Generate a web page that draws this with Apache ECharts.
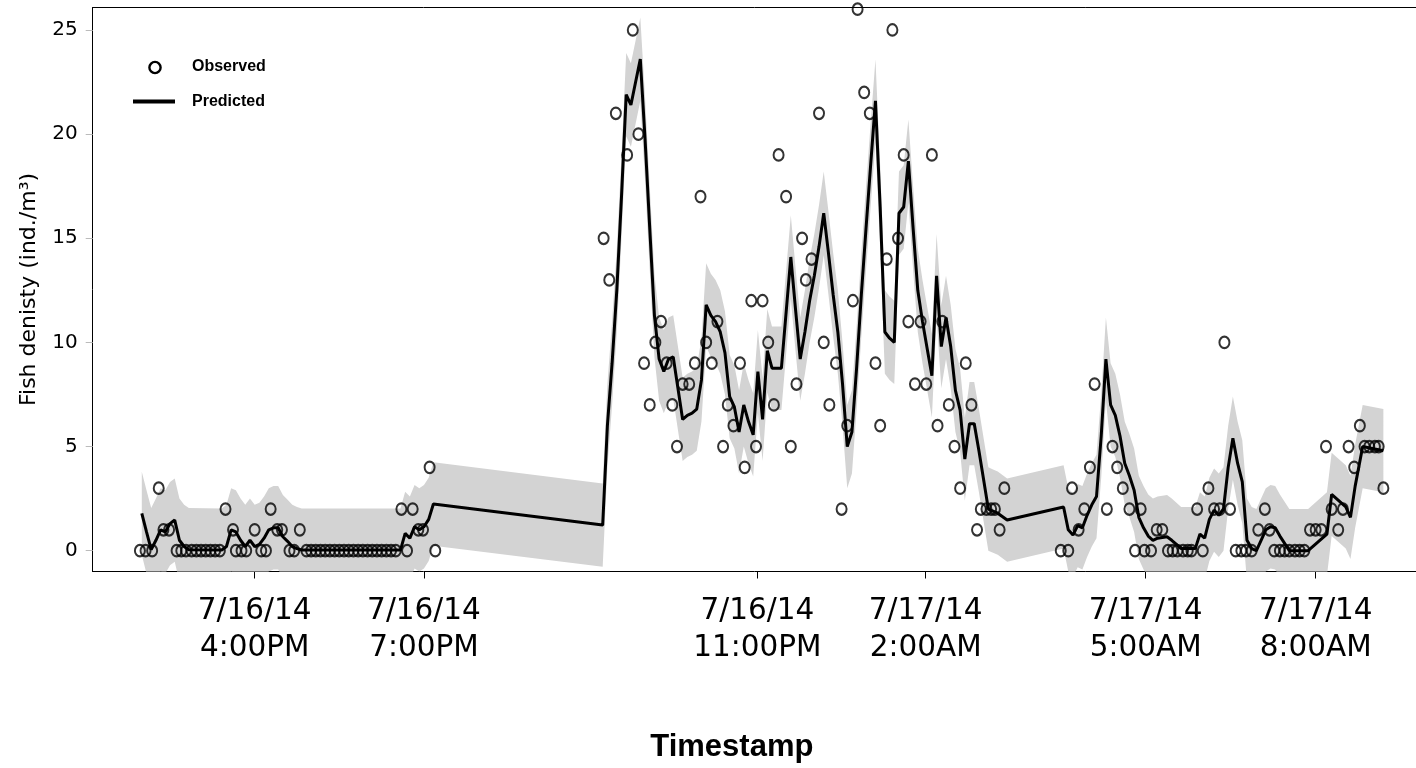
<!DOCTYPE html>
<html><head><meta charset="utf-8">
<script src="https://cdn.jsdelivr.net/npm/echarts@6/dist/echarts.min.js"></script>
<style>html,body{margin:0;padding:0;background:#fff}#c{width:1416px;height:768px}</style>
</head><body><div id="c"></div>
<script>
// x unit: minutes after 7/16/14 4:00PM on the plot's (non-linear) time scale
const tickTime = [0, 180, 534.5, 713.4, 947.3, 1128.1];
const tickLabels = ['7/16/14\n4:00PM', '7/16/14\n7:00PM', '7/16/14\n11:00PM', '7/17/14\n2:00AM', '7/17/14\n5:00AM', '7/17/14\n8:00AM'];
const yTicks = [0, 5, 10, 15, 20, 25];

const obsTime = [
  -122,-116,-109,-102,-97,-91,-83,-78,-73,-67,-62,-57,-52,-47,-42,-37,
  -31,-23,-20,-14,-9,0,7,12,17,24,29,37,42,48,
  55,60,65,70,75,80,85,90,95,100,105,110,115,120,125,130,135,140,145,150,
  156,162,168,174,179,186,192,
  371,377,384,396,402,408,414,420,426,432,438,444,449,455,462,468,474,480,486,492,
  498,503,509,516,521,528,533,540,546,552,557,565,570,576,582,586,592,600,605,611,
  618,624,630,636,641,648,654,660,665,672,678,684,690,695,702,708,714,720,726,731,
  738,744,750,756,762,768,772,778,783,787,792,797,
  857,865,869,876,882,888,893,906,912,917,923,930,936,942,946,953,959,965,971,976,
  981,987,992,996,1002,1008,1014,1020,1026,1031,1037,1043,1049,1054,1060,1067,1074,1079,1084,1090,
  1095,1100,1106,1111,1116,1122,1128,1134,1139,1145,1152,1157,1163,1169,1175,1180,1185,1191,1195,1200
];
const obsValue = [
  0,0,0,3,1,1,0,0,0,0,0,0,0,0,0,0,
  2,1,0,0,0,1,0,0,2,1,1,0,0,1,
  0,0,0,0,0,0,0,0,0,0,0,0,0,0,0,0,0,0,0,0,
  2,0,2,1,1,4,0,
  15,13,21,19,25,20,9,7,10,11,9,7,5,8,8,9,17,10,9,11,
  5,7,6,9,4,12,5,12,10,7,19,17,5,8,15,13,14,21,10,7,
  9,2,6,12,26,22,21,9,6,14,25,15,19,11,8,11,8,19,6,11,
  7,5,3,9,7,1,2,2,2,2,1,3,
  0,0,3,1,2,4,8,2,5,4,3,2,0,2,0,0,1,1,0,0,
  0,0,0,0,2,0,3,2,2,10,2,0,0,0,0,1,2,1,0,0,
  0,0,0,0,0,1,1,1,5,2,1,2,5,4,6,5,5,5,5,3
];

const predTime = [
  -120,-115,-110,-105,-100,-95,-90,-85,-80,-75,
  -70,-35,-30,-25,-20,-15,-10,-5,0,5,
  10,15,20,25,30,35,40,45,50,155,
  160,165,170,175,180,185,190,370,375,380,
  385,390,395,400,405,410,415,420,425,430,
  435,440,445,450,455,460,465,470,475,480,
  485,490,495,500,505,510,515,520,525,530,
  535,540,545,550,560,570,575,580,585,590,
  595,600,605,610,615,620,625,630,635,640,
  645,650,655,660,665,670,675,680,685,690,
  695,700,705,710,715,720,725,730,735,740,
  745,750,755,760,765,770,775,780,785,790,
  800,860,865,870,875,880,885,890,895,900,
  905,910,915,920,925,930,935,940,945,950,
  955,960,970,975,980,985,1000,1005,1010,1015,
  1020,1025,1030,1035,1040,1045,1050,1055,1060,1065,
  1070,1075,1080,1085,1090,1095,1100,1120,1140,1145,
  1160,1165,1170,1178,1200
];
const predValue = [
  1.79,0.9,0.05,0.5,1.0,0.9,1.3,1.47,0.5,0.2,
  0.05,0.03,0.2,1.0,0.9,0.5,0.2,0.5,0.2,0.3,
  0.6,1.0,1.1,1.1,0.67,0.45,0.2,0.1,0.03,0.03,
  0.83,0.6,1.15,1.0,1.15,1.5,2.24,1.23,6.0,9.0,
  12.5,17.0,21.9,21.4,22.5,23.6,19.8,15.5,11.3,9.2,
  8.6,9.2,9.3,7.8,6.3,6.5,6.6,6.8,8.2,11.8,
  11.3,11.0,10.5,9.5,7.4,6.9,5.7,7.0,6.2,5.56,
  8.6,6.3,9.6,8.76,8.76,14.1,11.6,9.2,10.5,12.0,
  13.2,14.6,16.2,14.3,12.3,10.5,8.0,5.0,5.7,8.8,
  12.3,15.5,18.6,21.6,16.5,10.5,10.2,10.0,16.2,16.5,
  18.7,15.5,12.5,11.0,9.7,8.4,13.2,9.8,11.2,9.8,
  7.7,6.75,4.4,6.1,6.1,4.8,3.4,2.0,1.9,1.8,
  1.47,2.1,1.0,0.75,1.2,1.1,1.7,2.2,2.6,5.5,
  9.2,7.0,6.5,5.5,4.2,3.6,2.9,1.6,1.1,0.7,
  0.5,0.6,0.67,0.5,0.3,0.1,0.1,0.8,0.6,1.5,
  1.95,1.7,2.0,4.0,5.4,4.2,3.3,0.5,0.1,0.0,
  0.5,1.0,1.15,1.1,0.7,0.35,0.0,0.0,0.8,2.7,
  2.1,1.6,3.1,5.0,4.8
];
const bandLow = [
  -0.21,-1.1,-1.95,-1.5,-1.0,-1.1,-0.7,-0.53,-1.5,-1.8,
  -1.95,-1.97,-1.8,-1.0,-1.1,-1.5,-1.8,-1.5,-1.8,-1.7,
  -1.4,-1.0,-0.9,-0.9,-1.33,-1.55,-1.8,-1.9,-1.97,-1.97,
  -1.17,-1.4,-0.85,-1.0,-0.85,-0.5,0.24,-0.77,4.0,7.0,
  10.5,15.0,19.9,19.4,20.5,21.6,17.8,13.5,9.3,7.2,
  6.6,7.2,7.3,5.8,4.3,4.5,4.6,4.8,6.2,9.8,
  9.3,9.0,8.5,7.5,5.4,4.9,3.7,5.0,4.2,3.56,
  6.6,4.3,7.6,6.76,6.76,12.1,9.6,7.2,8.5,10.0,
  11.2,12.6,14.2,12.3,10.3,8.5,6.0,3.0,3.7,6.8,
  10.3,13.5,16.6,19.6,14.5,8.5,8.2,8.0,14.2,14.5,
  16.7,13.5,10.5,9.0,7.7,6.4,11.2,7.8,9.2,7.8,
  5.7,4.75,2.4,4.1,4.1,2.8,1.4,0.0,-0.1,-0.2,
  -0.53,0.1,-1.0,-1.25,-0.8,-0.9,-0.3,0.2,0.6,3.5,
  7.2,5.0,4.5,3.5,2.2,1.6,0.9,-0.4,-0.9,-1.3,
  -1.5,-1.4,-1.33,-1.5,-1.7,-1.9,-1.9,-1.2,-1.4,-0.5,
  -0.05,-0.3,0.0,2.0,3.4,2.2,1.3,-1.5,-1.9,-2.0,
  -1.5,-1.0,-0.85,-0.9,-1.3,-1.65,-2.0,-2.0,-1.2,0.7,
  0.1,-0.4,1.1,3.0,2.8
];
const bandHigh = [
  3.79,2.9,2.05,2.5,3.0,2.9,3.3,3.47,2.5,2.2,
  2.05,2.03,2.2,3.0,2.9,2.5,2.2,2.5,2.2,2.3,
  2.6,3.0,3.1,3.1,2.67,2.45,2.2,2.1,2.03,2.03,
  2.83,2.6,3.15,3.0,3.15,3.5,4.24,3.23,8.0,11.0,
  14.5,19.0,23.9,23.4,24.5,25.6,21.8,17.5,13.3,11.2,
  10.6,11.2,11.3,9.8,8.3,8.5,8.6,8.8,10.2,13.8,
  13.3,13.0,12.5,11.5,9.4,8.9,7.7,9.0,8.2,7.56,
  10.6,8.3,11.6,10.76,10.76,16.1,13.6,11.2,12.5,14.0,
  15.2,16.6,18.2,16.3,14.3,12.5,10.0,7.0,7.7,10.8,
  14.3,17.5,20.6,23.6,18.5,12.5,12.2,12.0,18.2,18.5,
  20.7,17.5,14.5,13.0,11.7,10.4,15.2,11.8,13.2,11.8,
  9.7,8.75,6.4,8.1,8.1,6.8,5.4,4.0,3.9,3.8,
  3.47,4.1,3.0,2.75,3.2,3.1,3.7,4.2,4.6,7.5,
  11.2,9.0,8.5,7.5,6.2,5.6,4.9,3.6,3.1,2.7,
  2.5,2.6,2.67,2.5,2.3,2.1,2.1,2.8,2.6,3.5,
  3.95,3.7,4.0,6.0,7.4,6.2,5.3,2.5,2.1,2.0,
  2.5,3.0,3.15,3.1,2.7,2.35,2.0,2.0,2.8,4.7,
  4.1,3.6,5.1,7.0,6.8
];

const chart = echarts.init(document.getElementById('c'), null, {renderer: 'canvas'});
const obsData = obsTime.map((t, i) => [t, obsValue[i]]);
const predData = predTime.map((t, i) => [t, predValue[i]]);
const labelFor = v => {
  let best = 0;
  for (let i = 1; i < tickTime.length; i++) if (Math.abs(tickTime[i] - v) < Math.abs(tickTime[best] - v)) best = i;
  return tickLabels[best];
};

chart.setOption({
  animation: false,
  backgroundColor: '#fff',
  grid: {left: 92.7, top: 7.5, width: 1328.3, height: 564, outerBoundsMode: 'none', containLabel: false, show: false},
  xAxis: [{
    type: 'value', min: -172.2, max: 1240,
    axisLine: {show: true, onZero: false, lineStyle: {color: '#000', width: 1}},
    axisTick: {show: true, customValues: tickTime, length: 7, lineStyle: {color: '#000'}},
    axisLabel: {show: true, customValues: tickTime, formatter: labelFor, fontSize: 29.5, fontFamily: 'DejaVu Sans', color: '#000', lineHeight: 37, margin: 21},
    splitLine: {show: false},
    name: 'Timestamp', nameLocation: 'middle', nameGap: 160,
    nameTextStyle: {fontSize: 31, fontWeight: 'bold', fontFamily: 'Liberation Sans', color: '#000', padding: [0, 50, 0, 0]}
  }, {
    type: 'value', position: 'top', min: -172.2, max: 1240,
    axisLine: {show: true, onZero: false, lineStyle: {color: '#000', width: 1}},
    axisTick: {show: false}, axisLabel: {show: false}, splitLine: {show: false}
  }],
  yAxis: {
    type: 'value', min: -1.0, max: 26.08,
    axisLine: {show: true, onZero: false, lineStyle: {color: '#000', width: 1}},
    axisTick: {show: true, customValues: yTicks, length: 7, lineStyle: {color: '#bbbbbb'}},
    axisLabel: {customValues: yTicks, fontSize: 20, fontFamily: 'DejaVu Sans', color: '#000', margin: 15},
    splitLine: {show: false},
    name: 'Fish denisty (ind./m³)', nameLocation: 'middle', nameGap: 52, nameRotate: 90,
    nameTextStyle: {fontSize: 22, fontFamily: 'DejaVu Sans', color: '#000'}
  },
  graphic: [
    {type: 'ellipse', shape: {cx: 155, cy: 67.5, rx: 5.6, ry: 5.6}, style: {fill: 'none', stroke: '#000', lineWidth: 2.4}},
    {type: 'text', x: 192, y: 67, style: {text: 'Observed', font: 'bold 16px "Liberation Sans"', fill: '#000', verticalAlign: 'middle'}},
    {type: 'line', shape: {x1: 133, y1: 101.5, x2: 175, y2: 101.5}, style: {stroke: '#000', lineWidth: 4}},
    {type: 'text', x: 192, y: 101.5, style: {text: 'Predicted', font: 'bold 16px "Liberation Sans"', fill: '#000', verticalAlign: 'middle'}}
  ],
  series: [
    {
      type: 'custom', name: 'Prediction band', silent: true, clip: true, z: 1,
      data: [[0, 0]],
      renderItem: (params, api) => {
        const pts = [];
        for (let i = 0; i < predTime.length; i++) pts.push(api.coord([predTime[i], bandHigh[i]]));
        for (let i = predTime.length - 1; i >= 0; i--) pts.push(api.coord([predTime[i], bandLow[i]]));
        return {type: 'polygon', shape: {points: pts}, style: {fill: '#d3d3d3', stroke: 'none'}};
      }
    },
    {
      type: 'line', name: 'Predicted', data: predData, symbol: 'none', clip: true, z: 3,
      lineStyle: {color: '#000', width: 3}
    },
    {
      type: 'scatter', name: 'Observed', data: obsData, clip: true, z: 4,
      symbol: 'circle', symbolSize: [10, 11.5],
      itemStyle: {color: 'rgba(255,255,255,0)', borderColor: '#000', borderWidth: 2.1}
    }
  ]
});
</script>
</body></html>
